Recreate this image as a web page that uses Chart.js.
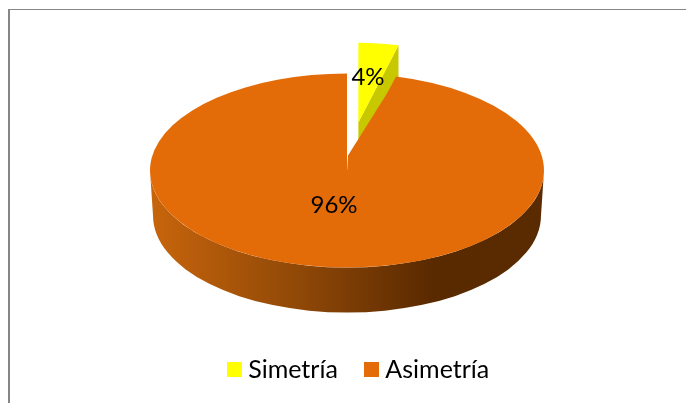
<!DOCTYPE html>
<html><head><meta charset="utf-8">
<style>html,body{margin:0;padding:0;background:#fff}#w{position:absolute;left:0;top:0;width:686px;height:403px}</style>
<script src="https://cdn.jsdelivr.net/npm/chart.js@4"></script></head>
<body><div id="w"><canvas id="c"></canvas></div>
<script>
const categories = ['Simetría', 'Asimetría'];
const values = [4, 96];
const sliceColors = ['#ffff00', '#e36c09'];
const wedgeSideColor = '#c8c800';
const font = 'Lato';
const labelSize = 24;

// Flattened-disc projection of the round pie
const disc = {cx: 347, cy: 170.5, rx: 197, ry: 97, depth: 45, wallRx: 194, apexLift: 15};
const explodedRadius = 0.82, explodedShiftX = 0.46, explodedShiftY = 0.5;

function projection(ctx, arc) {
  ctx.translate(disc.cx, disc.cy);
  ctx.scale(disc.rx / arc.outerRadius, disc.ry / arc.outerRadius);
  ctx.translate(-arc.x, -arc.y);
}

const disc3d = {
  id: 'disc3d',
  afterDatasetsUpdate(chart) {
    const arcs = chart.getDatasetMeta(0).data;
    const wedge = arcs[0], big = arcs[1];
    const mid = (wedge.startAngle + wedge.endAngle) / 2;
    wedge.x += Math.cos(mid) * big.outerRadius * explodedShiftX;
    wedge.y += Math.sin(mid) * big.outerRadius * explodedShiftY;
    wedge.outerRadius = big.outerRadius * explodedRadius;
  },
  beforeDraw(chart) {
    const {ctx, width, height} = chart;
    ctx.save();
    ctx.fillStyle = '#868686';
    ctx.fillRect(8, 9, width - 8, 1);
    ctx.fillRect(8, 9, 2, height - 9);
    ctx.restore();
  },
  beforeDatasetsDraw(chart) {
    const {ctx} = chart;
    const arcs = chart.getDatasetMeta(0).data;
    const big = arcs[1], wedge = arcs[0];
    // outer wall of the big slice
    const g = ctx.createLinearGradient(disc.cx - disc.rx, 0, disc.cx + disc.rx, 0);
    g.addColorStop(0, '#c8650c');
    g.addColorStop(0.38, '#8f4807');
    g.addColorStop(0.72, '#592900');
    g.addColorStop(1, '#5a2a00');
    ctx.save();
    ctx.fillStyle = g;
    ctx.beginPath();
    ctx.ellipse(disc.cx, disc.cy, disc.rx, disc.ry, 0, 0, Math.PI);
    ctx.ellipse(disc.cx, disc.cy + disc.depth, disc.wallRx, disc.ry, 0, Math.PI, 0, true);
    ctx.closePath();
    ctx.fill();
    // cut face of the exploded wedge
    const sx = disc.rx / big.outerRadius, sy = disc.ry / big.outerRadius;
    const px = disc.cx + (wedge.x - big.x) * sx, py = disc.cy + (wedge.y - big.y) * sy;
    const tx = px + Math.cos(wedge.endAngle) * wedge.outerRadius * sx;
    const ty = py + Math.sin(wedge.endAngle) * wedge.outerRadius * sy;
    ctx.fillStyle = wedgeSideColor;
    ctx.beginPath();
    ctx.moveTo(px, py);
    ctx.lineTo(tx, ty);
    ctx.lineTo(tx, ty + disc.depth);
    ctx.lineTo(px, py + disc.depth);
    ctx.closePath();
    ctx.fill();
    ctx.restore();
    ctx.save();
    projection(ctx, big);
  },
  afterDatasetsDraw(chart) {
    const {ctx} = chart;
    ctx.restore();
    const big = chart.getDatasetMeta(0).data[1];
    // perspective: the slice's point sits above the disc's centre
    ctx.save();
    ctx.fillStyle = sliceColors[1];
    ctx.beginPath();
    ctx.moveTo(disc.cx + 4, disc.cy + 3);
    ctx.lineTo(disc.cx + Math.cos(big.startAngle) * disc.rx + 1, disc.cy + Math.sin(big.startAngle) * disc.ry + 1);
    ctx.lineTo(disc.cx + 1, disc.cy - disc.apexLift);
    ctx.lineTo(disc.cx, disc.cy + 3);
    ctx.closePath();
    ctx.fill();
    ctx.restore();
    const total = values.reduce((a, b) => a + b, 0);
    ctx.save();
    ctx.fillStyle = '#000';
    ctx.font = `${labelSize}px ${font}`;
    ctx.textAlign = 'center';
    ctx.textBaseline = 'middle';
    const where = [[368, 77], [334, 205]];
    values.forEach((v, i) => ctx.fillText(Math.round(v / total * 100) + '%', where[i][0], where[i][1]));
    ctx.restore();
  }
};

function swatch(color) {
  const s = document.createElement('canvas');
  s.width = 15; s.height = 15;
  const x = s.getContext('2d');
  x.fillStyle = color;
  x.fillRect(0, 0, 15, 15);
  return s;
}

new Chart(document.getElementById('c'), {
  type: 'pie',
  data: {
    labels: categories,
    datasets: [{
      data: values,
      backgroundColor: sliceColors,
      borderWidth: 0
    }]
  },
  plugins: [disc3d],
  options: {
    responsive: true,
    maintainAspectRatio: false,
    animation: false,
    events: [],
    layout: {padding: {top: 10, bottom: 11, left: 37}},
    plugins: {
      tooltip: {enabled: false},
      legend: {
        position: 'bottom',
        labels: {
          color: '#000',
          font: {family: font, size: 25},
          usePointStyle: true,
          pointStyleWidth: 2,
          boxHeight: 15,
          padding: 33,
          generateLabels: chart => categories.map((t, i) => ({
            text: t, fillStyle: sliceColors[i], strokeStyle: sliceColors[i], lineWidth: 0,
            pointStyle: swatch(sliceColors[i]), index: i, hidden: false
          }))
        }
      }
    }
  }
});
</script></body></html>
